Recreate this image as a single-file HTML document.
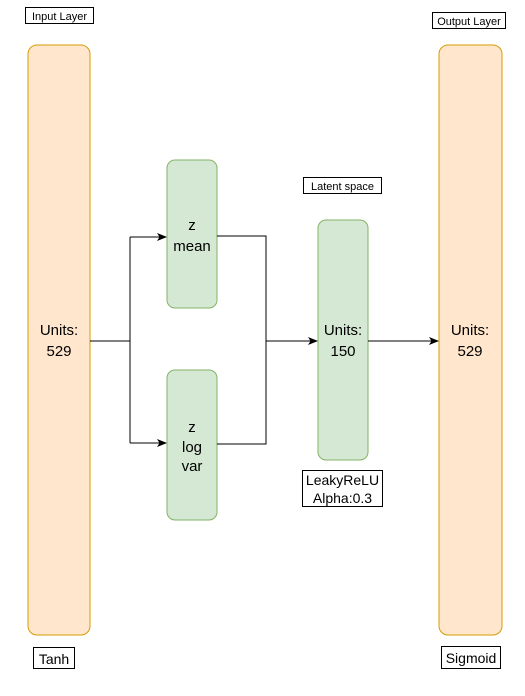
<!DOCTYPE html>
<html><head><style>
body{margin:0;width:525px;height:691px;background:#fff;overflow:hidden}
svg text{font-family:"Liberation Sans",Arial,sans-serif;fill:#000}
</style></head><body>
<svg width="525" height="691" viewBox="0 0 525 691" xmlns="http://www.w3.org/2000/svg">
<defs><marker id="a" markerWidth="10" markerHeight="10" refX="9" refY="5" orient="auto" markerUnits="userSpaceOnUse"><path d="M0,1 L10,5 L0,9 L2.5,5Z" fill="#000"/></marker></defs>
<rect x="28" y="45" width="62" height="590" rx="9" fill="#ffe6cc" stroke="#d79b00"/>
<rect x="439" y="45" width="63" height="590" rx="9" fill="#ffe6cc" stroke="#d79b00"/>
<rect x="167" y="160" width="50" height="148" rx="8" fill="#d5e8d4" stroke="#82b366"/>
<rect x="167" y="370" width="50" height="150" rx="8" fill="#d5e8d4" stroke="#82b366"/>
<rect x="318" y="220" width="50" height="240" rx="8" fill="#d5e8d4" stroke="#82b366"/>
<g stroke="#000" fill="none" stroke-width="1">
<path d="M90,341 H130 M130,237 V443"/>
<path d="M130,237 H166" marker-end="url(#a)"/>
<path d="M130,443 H166" marker-end="url(#a)"/>
<path d="M217,236 H266 V444 H217"/>
<path d="M266,341 H317" marker-end="url(#a)"/>
<path d="M368,341 H438" marker-end="url(#a)"/>
</g>
<g fill="#fff" stroke="#000">
<rect x="25.5" y="7.5" width="68" height="16"/>
<rect x="432.5" y="12.5" width="73" height="16"/>
<rect x="303.5" y="177.5" width="78" height="16"/>
<rect x="302.5" y="470.5" width="80" height="36"/>
<rect x="33.5" y="647.5" width="41" height="21"/>
<rect x="441.5" y="646.5" width="59" height="22"/>
</g>
<g font-size="11" text-anchor="middle">
<text x="59.5" y="20">Input Layer</text>
<text x="469" y="25">Output Layer</text>
<text x="342.5" y="190">Latent space</text>
</g>
<g font-size="15" text-anchor="middle">
<text x="59" y="335">Units:</text><text x="59" y="356">529</text>
<text x="470" y="335">Units:</text><text x="470" y="356">529</text>
<text x="343" y="335">Units:</text><text x="343" y="356">150</text>
<text x="192" y="230">z</text><text x="192" y="251">mean</text>
<text x="192" y="432">z</text><text x="192" y="452">log</text><text x="192" y="471">var</text>
</g>
<g font-size="14" text-anchor="middle">
<text x="342.5" y="485">LeakyReLU</text><text x="342.5" y="503">Alpha:0.3</text>
<text x="54" y="664">Tanh</text>
<text x="471" y="663">Sigmoid</text>
</g>
</svg>
</body></html>
